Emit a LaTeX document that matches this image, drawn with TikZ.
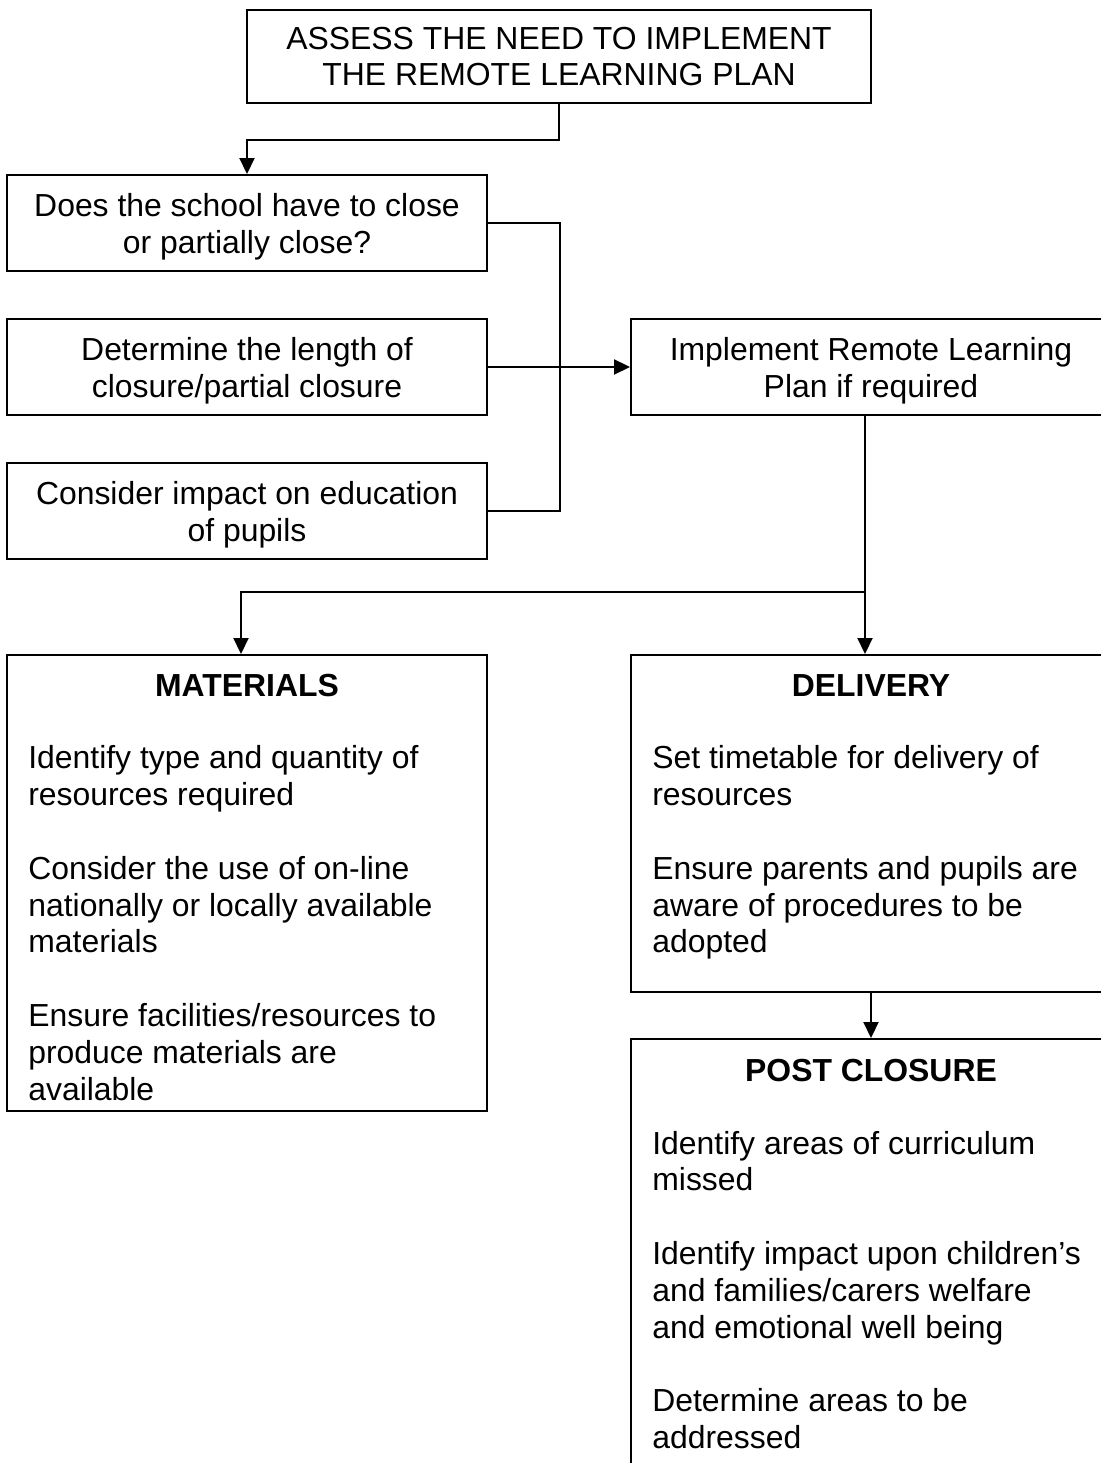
\documentclass[tikz,border=0pt]{standalone}
\usepackage{fontspec}
\setmainfont{Liberation Sans}
\usetikzlibrary{arrows.meta}
\newcommand{\topstrut}{\rule{0pt}{17.5pt}}
\tikzset{
  box/.style={draw=black, line width=1.1pt, rectangle, inner sep=0pt},
  boxlabel/.style={font=\fontsize{18.15}{20.95}\selectfont, align=center},
  boxhead/.style={font=\fontsize{18.15}{20.95}\selectfont\bfseries, inner sep=0pt, anchor=base},
  boxbody/.style={font=\fontsize{18.15}{20.95}\selectfont, align=left, inner sep=0pt, anchor=north west},
  line/.style={line width=1.1pt, draw=black},
  link/.style={line width=1.1pt, draw=black, -{Triangle[length=3.2mm, width=3.0mm]}},
}

\begin{document}
\begin{tikzpicture}
\useasboundingbox (0,0) rectangle (22.020,29.260);
% top box and the three questions
\node[box, boxlabel, minimum width=12.480cm, minimum height=1.860cm] (assess) at (11.180,28.130) {ASSESS THE NEED TO IMPLEMENT\\THE REMOTE LEARNING PLAN};
\node[box, boxlabel, minimum width=9.600cm, minimum height=1.920cm] (close) at (4.940,24.800) {\topstrut Does the school have to close\\or partially close?};
\node[box, boxlabel, minimum width=9.600cm, minimum height=1.920cm] (length) at (4.940,21.920) {\topstrut Determine the length of\\closure/partial closure};
\node[box, boxlabel, minimum width=9.600cm, minimum height=1.920cm] (impact) at (4.940,19.040) {\topstrut Consider impact on education\\of pupils};
\node[box, boxlabel, minimum width=9.600cm, minimum height=1.920cm] (impl) at (17.420,21.920) {\topstrut Implement Remote Learning\\Plan if required};
% the three lists
\node[box, minimum width=9.600cm, minimum height=9.120cm] (mat) at (4.940,11.600) {};
\node[boxhead] (mathead) at (4.940,15.320) {MATERIALS};
\node[boxbody] (matbody) at (0.560,14.354) {Identify type and quantity of\\resources required\\[\baselineskip]Consider the use of on-line\\nationally or locally available\\materials\\[\baselineskip]Ensure facilities/resources to\\produce materials are\\available};
\node[box, minimum width=9.600cm, minimum height=6.740cm] (dlv) at (17.420,12.790) {};
\node[boxhead] (dlvhead) at (17.420,15.320) {DELIVERY};
\node[boxbody] (dlvbody) at (13.040,14.354) {Set timetable for delivery of\\resources\\[\baselineskip]Ensure parents and pupils are\\aware of procedures to be\\adopted};
\node[box, minimum width=9.600cm, minimum height=9.200cm] (post) at (17.420,3.880) {};
\node[boxhead] (posthead) at (17.420,7.620) {POST CLOSURE};
\node[boxbody] (postbody) at (13.040,6.646) {Identify areas of curriculum\\missed\\[\baselineskip]Identify impact upon children’s\\and families/carers welfare\\and emotional well being\\[\baselineskip]Determine areas to be\\addressed};
% connectors
\draw[link] (assess.south) -- ++(0,-0.720) -| (close.north);
\draw[line] (close.east) -- ++(1.440,0) |- (impact.east);
\draw[link] (length.east) -- (impl.west);
\coordinate (fork) at (17.300,17.420);
\draw[line] (impl.south -| fork) -- (fork);
\draw[link] (fork) -- (fork |- dlv.north);
\draw[link] (fork) -| ([xshift=-0.120cm]mat.north);
\draw[link] (dlv.south) -- (post.north);
\end{tikzpicture}
\end{document}
